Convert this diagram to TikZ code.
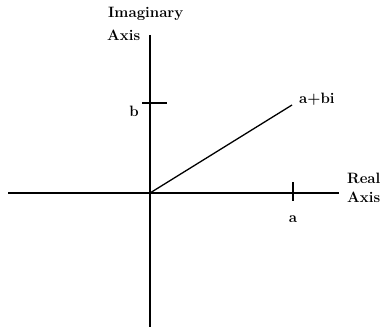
\documentclass[tikz,border=0pt]{standalone}
\begin{document}
\begin{tikzpicture}[x=1pt,y=-1pt,
  axis/.style={line width=1.8pt},
  lbl/.style={inner sep=0pt,font=\fontsize{15}{16}\selectfont\bfseries},
  tick/.style={line width=1.3pt}]
\useasboundingbox (0,0) rectangle (390,329);
\coordinate (O) at (150,193);
\coordinate (vtop) at (150,35);
\coordinate (vbot) at (150,327);
\coordinate (hl) at (8,193);
\coordinate (hr) at (339,193);
\coordinate (P) at (292,105);
\coordinate (ta1) at (293,182);
\coordinate (ta2) at (293,201);
\coordinate (tb1) at (142,103);
\coordinate (tb2) at (167,103);
\draw[axis] (vtop) -- (vbot);
\draw[axis] (hl) -- (hr);
\draw[line width=1.3pt] (O) -- (P);
\draw[tick] (ta1) -- (ta2);
\draw[tick] (tb1) -- (tb2);
\node[lbl,anchor=west] (imag) at (108,14) {Imaginary};
\node[lbl,anchor=west] (iaxis) at (107,35) {Axis};
\node[lbl] (b) at (134,111) {b};
\node[lbl] (a) at (293,219) {a};
\node[lbl,anchor=west] (abi) at (299,99) {a+bi};
\node[lbl,anchor=west] (real) at (347,178) {Real};
\node[lbl,anchor=west] (raxis) at (347,197) {Axis};
\end{tikzpicture}
\end{document}
